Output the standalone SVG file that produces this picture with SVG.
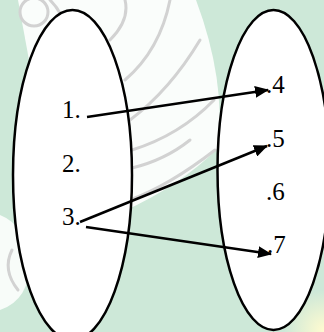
<svg xmlns="http://www.w3.org/2000/svg" width="324" height="332" viewBox="0 0 324 332">
  <style>
    .set { fill: #ffffff; stroke: #000000; stroke-width: 2.5; }
    .lbl { font-family: "Liberation Serif", "Times New Roman", serif; font-size: 25px; fill: #000000; }
    .edge { stroke: #000000; stroke-width: 2.5; fill: none; marker-end: url(#head); }
    .swirl { fill: none; stroke: #d2d2d2; stroke-width: 3; stroke-linecap: round; }
  </style>
  <defs>
    <marker id="head" viewBox="0 0 14 12" refX="13" refY="6" markerWidth="14" markerHeight="12" markerUnits="userSpaceOnUse" orient="auto">
      <path d="M0,0 L14,6 L0,12 Z" fill="#000000"/>
    </marker>
    <radialGradient id="glow" cx="324" cy="330" r="40" gradientUnits="userSpaceOnUse">
      <stop offset="0" stop-color="#fffbd0"/>
      <stop offset="1" stop-color="#fffbd0" stop-opacity="0"/>
    </radialGradient>
  </defs>

  <!-- paper background with faded emblem -->
  <g id="background">
    <rect x="0" y="0" width="324" height="332" fill="#cde8d8"/>
    <path d="M18 0 L196 0 Q226 80 218 148 Q180 186 122 212 L40 120 Z" fill="#ffffff" opacity="0.9"/>
    <path class="swirl" d="M132 150 Q180 135 214 100"/>
    <path class="swirl" d="M132 168 Q165 160 190 140"/>
    <path class="swirl" d="M130 120 Q170 90 200 40"/>
    <path class="swirl" d="M125 80 Q160 50 170 0"/>
    <path class="swirl" d="M110 40 Q130 20 125 0"/>
    <path class="swirl" d="M130 200 Q170 185 215 150"/>
    <circle class="swirl" cx="34" cy="12" r="14"/>
    <path class="swirl" d="M50 0 Q70 20 60 40"/>
    <path d="M0 215 Q25 225 30 260 Q30 300 0 310 Z" fill="#ffffff" opacity="0.85"/>
    <path class="swirl" d="M12 250 Q2 270 18 290"/>
    <rect x="270" y="280" width="54" height="52" fill="url(#glow)"/>
  </g>

  <!-- domain set -->
  <g id="set-a">
    <ellipse class="set" cx="72.5" cy="175" rx="59.5" ry="165"/>
    <text class="lbl" x="62" y="118">1.</text>
    <text class="lbl" x="62" y="172">2.</text>
    <text class="lbl" x="62" y="225">3.</text>
  </g>

  <!-- codomain set -->
  <g id="set-b">
    <ellipse class="set" cx="273.5" cy="170" rx="56" ry="160"/>
    <text class="lbl" x="266" y="93">.4</text>
    <text class="lbl" x="266" y="147">.5</text>
    <text class="lbl" x="266" y="200">.6</text>
    <text class="lbl" x="267" y="253">.7</text>
  </g>

  <!-- mapping arrows -->
  <g id="connectors">
    <line class="edge" x1="87" y1="117" x2="268" y2="90"/>
    <line class="edge" x1="80" y1="222" x2="267" y2="146"/>
    <line class="edge" x1="86" y1="227" x2="271" y2="254"/>
  </g>
</svg>
